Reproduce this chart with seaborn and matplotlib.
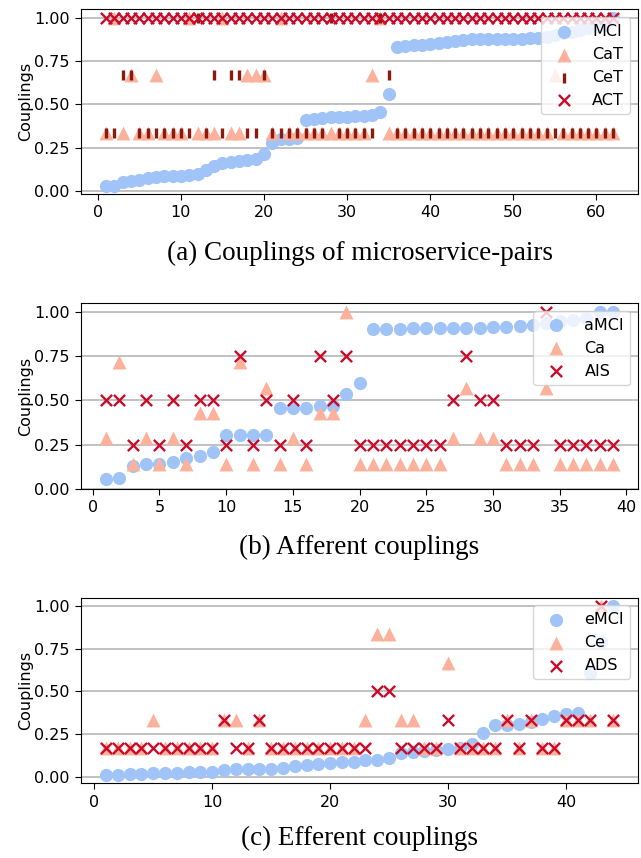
import numpy as np
import matplotlib
matplotlib.use("Agg")
import matplotlib.pyplot as plt
import seaborn as sns

# ---- (a) microservice pairs -------------------------------------------------
pair_idx = list(range(1, 63))
mci = [0.03, 0.03, 0.055, 0.06, 0.065, 0.075, 0.08, 0.085, 0.09, 0.09,
       0.095, 0.10, 0.12, 0.145, 0.16, 0.17, 0.175, 0.18, 0.185, 0.215,
       0.28, 0.30, 0.30, 0.305, 0.41, 0.415, 0.42, 0.425, 0.43, 0.43,
       0.435, 0.435, 0.44, 0.455, 0.56, 0.83, 0.835, 0.84, 0.845, 0.85,
       0.855, 0.86, 0.865, 0.87, 0.875, 0.875, 0.875, 0.88, 0.88, 0.88,
       0.88, 0.885, 0.885, 0.89, 0.90, 0.91, 0.92, 0.93, 0.94, 0.95,
       0.96, 1.0]
cat = [0.333, 1.0, 0.333, 0.667, 0.333, 0.333, 0.667, 0.333, 0.333, 0.333,
       1.0, 0.333, 0.333, 0.333, 1.0, 0.333, 0.333, 0.667, 0.667, 0.667,
       0.333, 1.0, 0.333, 0.333, 0.333, 0.333, 0.333, 0.333, 0.333, 0.333,
       0.333, 0.333, 0.667, 1.0, 0.333, 0.333, 0.333, 0.333, 0.333, 0.333,
       0.333, 0.333, 0.333, 0.333, 0.333, 0.333, 0.333, 0.333, 0.333, 0.333,
       0.333, 0.333, 0.333, 0.333, 0.667, 0.333, 0.333, 0.333, 0.333, 0.333,
       0.333, 0.333]
cet = [0.333, 0.333, 0.667, 0.667, 0.333, 0.333, 0.333, 0.333, 0.333, 0.333,
       0.333, 1.0, 0.333, 0.667, 0.333, 0.667, 0.667, 0.333, 0.333, 0.667,
       0.333, 0.333, 0.333, 0.333, 0.333, 0.333, 0.333, 1.0, 0.333, 0.333,
       0.333, 0.333, 0.333, 1.0, 0.667, 0.333, 0.333, 0.333, 0.333, 0.333,
       0.333, 0.333, 0.333, 0.333, 0.333, 0.333, 0.333, 0.333, 0.333, 0.333,
       0.333, 0.333, 0.333, 0.333, 0.333, 0.333, 0.333, 0.333, 0.333, 0.333,
       0.333, 0.333]
act = [1.0] * 62

# ---- (b) afferent -----------------------------------------------------------
aff_idx = list(range(1, 40))
amci = [0.06, 0.065, 0.13, 0.145, 0.145, 0.155, 0.175, 0.185, 0.21, 0.305,
        0.305, 0.305, 0.305, 0.455, 0.455, 0.455, 0.47, 0.47, 0.535, 0.60,
        0.90, 0.90, 0.90, 0.905, 0.905, 0.905, 0.91, 0.91, 0.91, 0.915,
        0.915, 0.92, 0.925, 0.935, 0.945, 0.955, 0.965, 1.0, 1.0]
ca = [0.286, 0.714, 0.143, 0.286, 0.143, 0.286, 0.143, 0.429, 0.429, 0.143,
      0.714, 0.143, 0.571, 0.143, 0.286, 0.143, 0.429, 0.429, 1.0, 0.143,
      0.143, 0.143, 0.143, 0.143, 0.143, 0.143, 0.286, 0.571, 0.286, 0.286,
      0.143, 0.143, 0.143, 0.571, 0.143, 0.143, 0.143, 0.143, 0.143]
ais = [0.5, 0.5, 0.25, 0.5, 0.25, 0.5, 0.25, 0.5, 0.5, 0.25,
       0.75, 0.25, 0.5, 0.25, 0.5, 0.25, 0.75, 0.5, 0.75, 0.25,
       0.25, 0.25, 0.25, 0.25, 0.25, 0.25, 0.5, 0.75, 0.5, 0.5,
       0.25, 0.25, 0.25, 1.0, 0.25, 0.25, 0.25, 0.25, 0.25]

# ---- (c) efferent -----------------------------------------------------------
eff_idx = list(range(1, 45))
emci = [0.01, 0.01, 0.013, 0.015, 0.02, 0.023, 0.023, 0.025, 0.025, 0.027,
        0.038, 0.045, 0.045, 0.046, 0.047, 0.053, 0.06, 0.066, 0.072, 0.082,
        0.084, 0.088, 0.098, 0.10, 0.11, 0.137, 0.145, 0.148, 0.156, 0.16,
        0.17, 0.19, 0.254, 0.30, 0.305, 0.31, 0.318, 0.34, 0.355, 0.37,
        0.375, 0.605, 0.79, 1.0]
ce = [0.167, 0.167, 0.167, 0.167, 0.333, 0.167, 0.167, 0.167, 0.167, 0.167,
      0.333, 0.333, 0.167, 0.333, 0.167, 0.167, 0.167, 0.167, 0.167, 0.167,
      0.167, 0.167, 0.333, 0.833, 0.833, 0.333, 0.333, 0.167, 0.167, 0.667,
      0.167, 0.167, 0.167, 0.167, 0.333, 0.167, 0.333, 0.167, 0.167, 0.333,
      0.333, 0.333, 1.0, 0.333]
ads = [0.167, 0.167, 0.167, 0.167, 0.167, 0.167, 0.167, 0.167, 0.167, 0.167,
       0.333, 0.167, 0.167, 0.333, 0.167, 0.167, 0.167, 0.167, 0.167, 0.167,
       0.167, 0.167, 0.167, 0.5, 0.5, 0.167, 0.167, 0.167, 0.167, 0.333,
       0.167, 0.167, 0.167, 0.167, 0.333, 0.167, 0.333, 0.167, 0.167, 0.333,
       0.333, 0.333, 1.0, 0.333]

BLUE = "#a0c3f8"
SALMON = "#fbb19c"
DARK = "#8b1a0c"
RED = "#c90b2b"

plt.rcParams["font.family"] = "DejaVu Sans"
fig = plt.figure(figsize=(6.41, 8.58), dpi=100)

boxes = [(0.126, 0.7735, 0.870, 0.2156),
         (0.126, 0.4297, 0.870, 0.2169),
         (0.126, 0.0869, 0.870, 0.2167)]


def style_axis(ax):
    ax.set_yticks([0.0, 0.25, 0.5, 0.75, 1.0])
    ax.yaxis.set_major_formatter(plt.FormatStrFormatter("%.2f"))
    ax.grid(axis="y", color="#b0b0b0", linewidth=1.1)
    ax.set_axisbelow(True)
    ax.set_ylabel("Couplings", fontsize=11.5, labelpad=1)
    ax.set_xlabel("")
    ax.tick_params(labelsize=11.5, length=4.5)
    ax.legend(loc="upper right", fontsize=11.5)


# Panel (a)
ax1 = fig.add_axes(boxes[0])
sns.scatterplot(x=pair_idx, y=mci, ax=ax1, color=BLUE, marker="o", s=90,
                linewidth=0, label="MCI")
sns.scatterplot(x=pair_idx, y=cat, ax=ax1, color=SALMON, marker="^", s=100,
                linewidth=0, label="CaT")
sns.scatterplot(x=pair_idx, y=cet, ax=ax1, color=DARK, marker="|", s=60,
                linewidth=2.4, label="CeT")
sns.scatterplot(x=pair_idx, y=act, ax=ax1, color=RED, marker="x", s=65,
                linewidth=1.7, label="ACT")
style_axis(ax1)

# Panel (b)
ax2 = fig.add_axes(boxes[1])
sns.scatterplot(x=aff_idx, y=amci, ax=ax2, color=BLUE, marker="o", s=90,
                linewidth=0, label="aMCI")
sns.scatterplot(x=aff_idx, y=ca, ax=ax2, color=SALMON, marker="^", s=100,
                linewidth=0, label="Ca")
sns.scatterplot(x=aff_idx, y=ais, ax=ax2, color=RED, marker="x", s=65,
                linewidth=1.7, label="AIS")
style_axis(ax2)

# Panel (c)
ax3 = fig.add_axes(boxes[2])
sns.scatterplot(x=eff_idx, y=emci, ax=ax3, color=BLUE, marker="o", s=90,
                linewidth=0, label="eMCI")
sns.scatterplot(x=eff_idx, y=ce, ax=ax3, color=SALMON, marker="^", s=100,
                linewidth=0, label="Ce")
sns.scatterplot(x=eff_idx, y=ads, ax=ax3, color=RED, marker="x", s=65,
                linewidth=1.7, label="ADS")
style_axis(ax3)

captions = [("(a) Couplings of microservice-pairs", 0.705),
            ("(b) Afferent couplings", 0.3625),
            ("(c) Efferent couplings", 0.0233)]
for text, yy in captions:
    fig.text(0.561, yy, text, ha="center", va="center",
             family="Liberation Serif", fontsize=19.5)

fig.savefig("out.png", dpi=100)
